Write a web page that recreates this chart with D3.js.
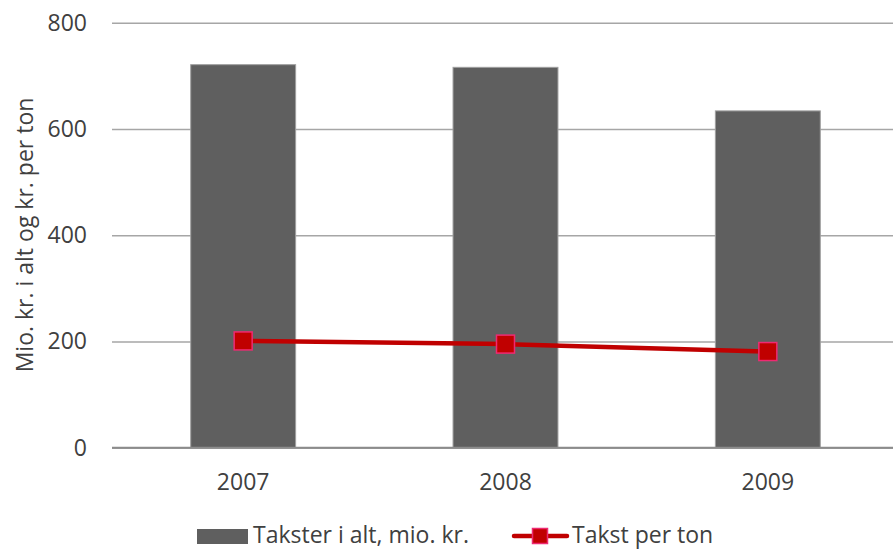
<!DOCTYPE html>
<html>
<head>
  <meta charset="utf8">
  <script src="https://d3js.org/d3.v7.min.js"></script>
  <style>
    body { margin: 0; background: #fff; }
    text { font-family: "Open Sans", sans-serif; fill: #404040; }
    .grid line { stroke: #a6a6a6; stroke-width: 1.5; }
    .grid .domain { display: none; }
  </style>
</head>
<body>
  <svg id="chart" width="893" height="550"></svg>
  <script>
    var years = ['2007', '2008', '2009'];
    var totals = [721, 716, 634];
    var perTon = [201, 195, 181];
    var yTicks = [0, 200, 400, 600, 800];

    var chart = d3.select('#chart');
    var plotLeft = 112, plotRight = 899, plotTop = 22.7, plotBottom = 447.7;
    var fontSize = '23px';

    var x = d3.scaleBand()
      .domain(years)
      .range([plotLeft, plotRight])
      .paddingInner(0.6)
      .paddingOuter(0.3);

    var y = d3.scaleLinear()
      .domain([0, 800])
      .range([plotBottom, plotTop]);

    // gridlines + tick labels
    chart.append('g')
      .attr('class', 'grid')
      .attr('transform', 'translate(' + plotLeft + ',0)')
      .call(d3.axisLeft(y).tickValues(yTicks).tickSize(-(893 - plotLeft)).tickPadding(25).tickFormat(d3.format('d')))
      .call((g) => g.selectAll('text').style('font-size', fontSize).attr('fill', '#404040'));

    var bw = x.bandwidth();

    chart.append('g')
      .selectAll('rect')
      .data(years)
      .enter()
      .append('rect')
      .attr('x', (d) => x(d))
      .attr('y', (d, i) => y(totals[i]))
      .attr('width', bw)
      .attr('height', (d, i) => y(0) - y(totals[i]))
      .attr('fill', '#5f5f5f')
      .attr('stroke', '#a0a0a0')
      .attr('stroke-width', 1);

    // baseline
    chart.append('line')
      .attr('x1', plotLeft).attr('x2', 893)
      .attr('y1', y(0)).attr('y2', y(0))
      .attr('stroke', '#8c8c8c')
      .attr('stroke-width', 2);

    // x labels
    chart.append('g')
      .selectAll('text')
      .data(years)
      .enter()
      .append('text')
      .attr('x', (d) => x(d) + bw / 2)
      .attr('y', 490)
      .attr('text-anchor', 'middle')
      .style('font-size', fontSize)
      .text((d) => d);

    // line series
    var cx = (d) => x(d) + bw / 2;
    chart.append('path')
      .datum(years)
      .attr('fill', 'none')
      .attr('stroke', '#c00000')
      .attr('stroke-width', 4.5)
      .attr('d', d3.line().x(cx).y((d, i) => y(perTon[i])));

    chart.append('g')
      .selectAll('rect')
      .data(years)
      .enter()
      .append('rect')
      .attr('x', (d) => cx(d) - 9)
      .attr('y', (d, i) => y(perTon[i]) - 9)
      .attr('width', 18)
      .attr('height', 18)
      .attr('fill', '#c00000')
      .attr('stroke', '#ee2a72')
      .attr('stroke-width', 1.5);

    // y axis title
    chart.append('text')
      .attr('transform', 'translate(33,235) rotate(-90)')
      .attr('text-anchor', 'middle')
      .style('font-size', fontSize)
      .text('Mio. kr. i alt og kr. per ton');

    // legend
    var lg = chart.append('g');
    lg.append('rect')
      .attr('x', 197).attr('y', 529)
      .attr('width', 51).attr('height', 15)
      .attr('fill', '#5f5f5f');
    lg.append('text')
      .attr('x', 253).attr('y', 543)
      .style('font-size', fontSize)
      .text('Takster i alt, mio. kr.');
    lg.append('line')
      .attr('x1', 514).attr('x2', 567)
      .attr('y1', 536).attr('y2', 536)
      .attr('stroke', '#c00000')
      .attr('stroke-width', 4.5)
      .attr('stroke-linecap', 'round');
    lg.append('rect')
      .attr('x', 532.5).attr('y', 528.5)
      .attr('width', 15).attr('height', 15)
      .attr('fill', '#c00000')
      .attr('stroke', '#ee2a72')
      .attr('stroke-width', 1.5);
    lg.append('text')
      .attr('x', 572).attr('y', 543)
      .style('font-size', fontSize)
      .text('Takst per ton');
  </script>
</body>
</html>
